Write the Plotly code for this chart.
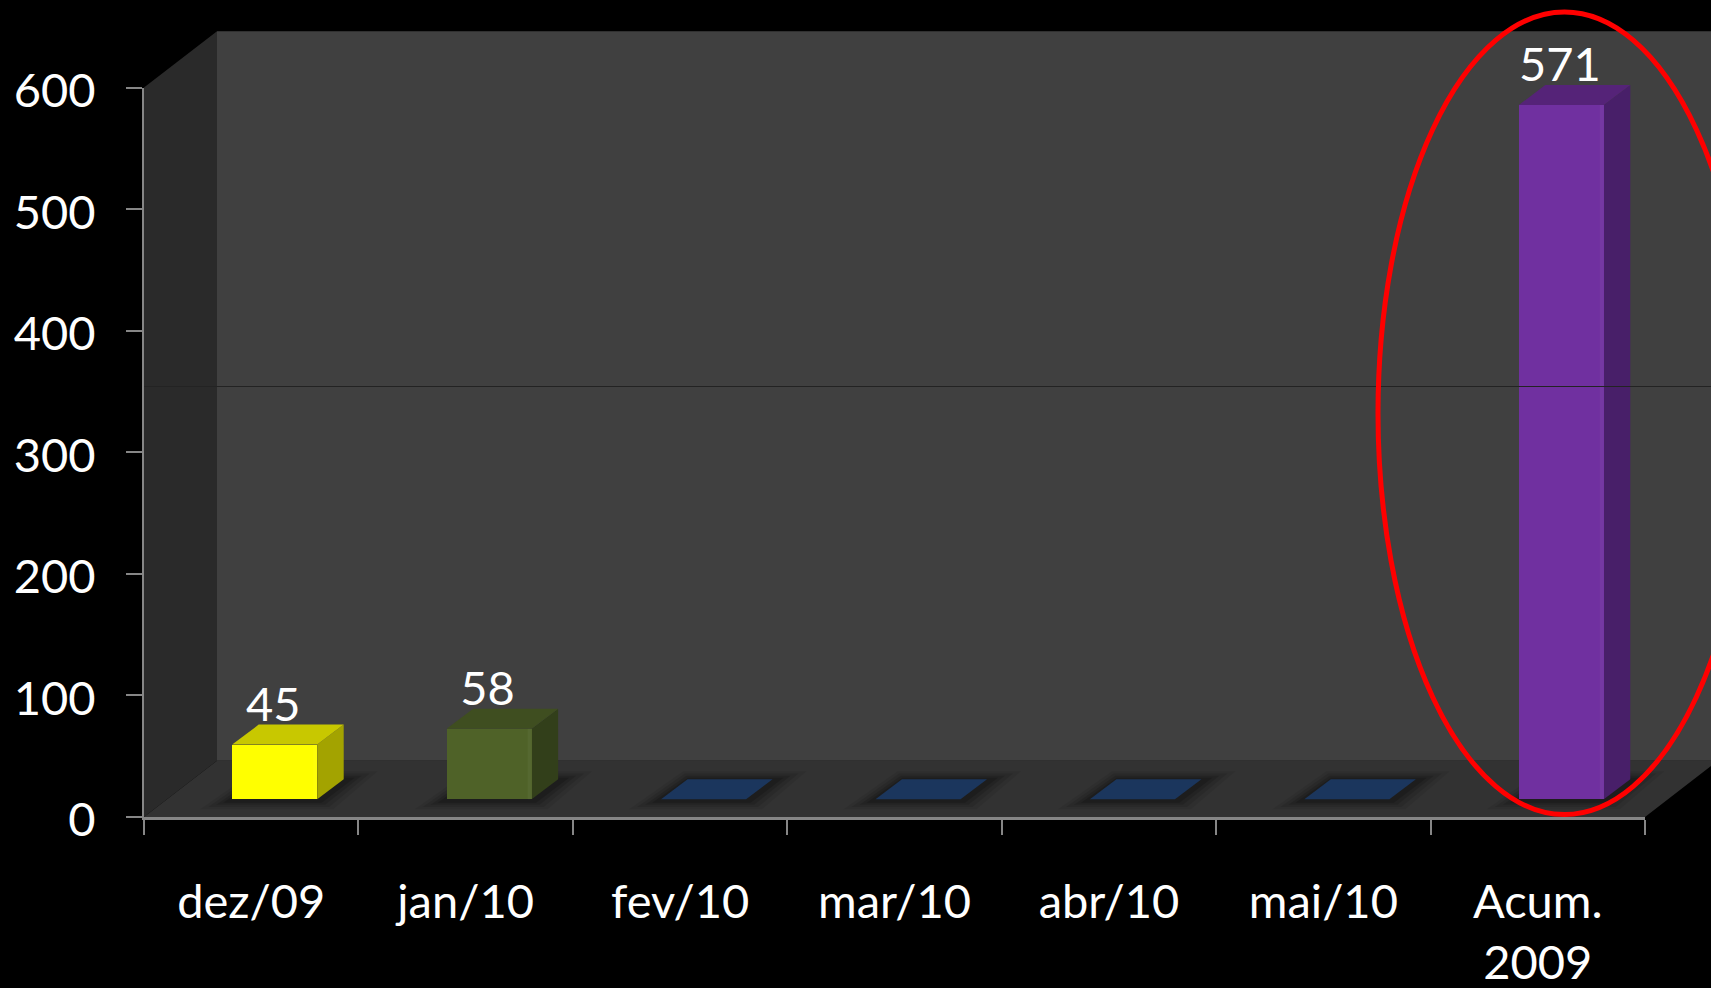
import plotly.graph_objects as go

# ---- data ----
categories = ["dez/09", "jan/10", "fev/10", "mar/10", "abr/10", "mai/10", "Acum.<br>2009"]
values = [45, 58, 0, 0, 0, 0, 571]
data_labels = ["45", "58", "", "", "", "", "571"]
y_ticks = [0, 100, 200, 300, 400, 500, 600]

front_colors = ["#FFFF00", "#4F6228", "#1B365D", "#1B365D", "#1B365D", "#1B365D", "#7030A0"]
top_colors = ["#C8C800", "#3F4E20", "#1B365D", "#1B365D", "#1B365D", "#1B365D", "#552378"]
side_colors = ["#A3A300", "#323F1A", "#1B365D", "#1B365D", "#1B365D", "#1B365D", "#481F69"]

WALL = "#404040"
SIDE_WALL = "#2A2A2A"
FLOOR = "#323232"
AXIS = "#868686"
FONT = "Lato, 'Open Sans', sans-serif"
FS = 47

# ---- page geometry ----
W, H = 1711, 988
X0_PX, X7_PX = 144.0, 1645.0
Y0_PX, Y600_PX = 817.0, 87.5
XU = (X7_PX - X0_PX) / 7          # px per category
YU = (Y0_PX - Y600_PX) / 600      # px per value unit

def ux(px):
    return px / XU
def uy(px):
    return px / YU

x_range = [ux(-X0_PX), ux(W - X0_PX)]
y_range = [uy(-(H - Y0_PX)), uy(Y0_PX)]

wall_dx, wall_dy = ux(73), uy(56.3)
bar_shift, bar_lift = ux(23.5), uy(17.7)
bar_w = ux(85)
depth_dx, depth_dy = ux(26.5), uy(20)
top_val = 600

fig = go.Figure()

def poly(xs, ys, color, opacity=1.0, axis=("x", "y")):
    fig.add_trace(go.Scatter(
        x=list(xs) + [xs[0]], y=list(ys) + [ys[0]], mode="lines", fill="toself",
        fillcolor=color, line=dict(width=0), opacity=opacity, hoverinfo="skip",
        showlegend=False, xaxis=axis[0], yaxis=axis[1]))

far = x_range[1] + 1
# back wall
poly([wall_dx, far, far, wall_dx],
     [wall_dy, wall_dy, top_val + wall_dy, top_val + wall_dy], WALL)
# side wall
poly([0, wall_dx, wall_dx, 0],
     [0, wall_dy, top_val + wall_dy, top_val], SIDE_WALL)
# floor
poly([0, 7, 7 + wall_dx, wall_dx], [0, 0, wall_dy, wall_dy], FLOOR)

n = len(categories)
centers = [i + 0.5 + bar_shift for i in range(n)]

# soft shadows on the floor
for g, op in [(32, 0.07), (24, 0.10), (16, 0.13), (9, 0.16)]:
    for c in centers:
        l, r = c - bar_w / 2, c + bar_w / 2
        gx, gy = ux(g), uy(g * 0.28)
        sdx = ux(2)
        base = bar_lift - uy(1)
        poly([l - gx, r + gx * 0.5, r + depth_dx + sdx + gx, l + depth_dx + sdx - gx * 0.2],
             [base - gy, base - gy, base + depth_dy + gy, base + depth_dy + gy],
             "#000000", op)

# side and top faces of each box
for i, (c, v) in enumerate(zip(centers, values)):
    l, r = c - bar_w / 2, c + bar_w / 2
    b, t = bar_lift, bar_lift + v
    if v > 0:
        poly([r, r + depth_dx, r + depth_dx, r],
             [b, b + depth_dy, t + depth_dy, t], side_colors[i])
    poly([l, r, r + depth_dx, l + depth_dx],
         [t, t, t + depth_dy, t + depth_dy], top_colors[i])

# front faces: bars (overlay subplot so they sit above the walls)
fig.add_trace(go.Bar(
    x=centers, y=values, base=[bar_lift] * n, width=bar_w,
    marker=dict(color=front_colors, line=dict(width=0)),
    hoverinfo="skip", showlegend=False, xaxis="x2", yaxis="y2"))

# faint bevel highlight along the right edge of the front faces
for c, v in zip(centers, values):
    if v > 0:
        r = c + bar_w / 2
        t = bar_lift + v
        poly([r - ux(4), r, r, r - ux(4)], [bar_lift, bar_lift, t, t],
             "#FFFFFF", 0.035, axis=("x2", "y2"))

# data labels
lab_x = [c - ux(1.5) for c, l in zip(centers, data_labels) if l]
lab_y = [bar_lift + v + depth_dy - uy(8) for v, l in zip(values, data_labels) if l]
fig.add_trace(go.Scatter(
    x=lab_x, y=lab_y, text=[l for l in data_labels if l], mode="text",
    textposition="top center", textfont=dict(family=FONT, size=FS, color="white"),
    hoverinfo="skip", showlegend=False, xaxis="x2", yaxis="y2", cliponaxis=False))

# axes carrier
fig.add_trace(go.Scatter(
    x=categories, y=values, mode="markers", marker=dict(opacity=0),
    hoverinfo="skip", showlegend=False, xaxis="x3", yaxis="y3"))

hidden = dict(visible=False, showgrid=False, zeroline=False, automargin=False)
fig.update_layout(
    width=W, height=H, margin=dict(l=0, r=0, t=0, b=0, autoexpand=False),
    paper_bgcolor="black", plot_bgcolor="rgba(0,0,0,0)",
    showlegend=False, bargap=0,
    font=dict(family=FONT, size=FS, color="white"),
    xaxis=dict(range=x_range, domain=[0, 1], **hidden),
    yaxis=dict(range=y_range, domain=[0, 1], **hidden),
    xaxis2=dict(range=x_range, domain=[0, 1], overlaying="x", anchor="y2", **hidden),
    yaxis2=dict(range=y_range, domain=[0, 1], overlaying="y", anchor="x2", **hidden),
    xaxis3=dict(
        type="category", categoryorder="array", categoryarray=categories,
        range=[-0.5, n - 0.5], tickson="boundaries", automargin=False,
        domain=[X0_PX / W, X7_PX / W], anchor="y3",
        showgrid=False, zeroline=False, showline=True, linecolor=AXIS, linewidth=2.5,
        ticks="outside", ticklen=15, tickwidth=2, tickcolor=AXIS,
        ticklabelstandoff=42, tickangle=0,
        tickfont=dict(family=FONT, size=FS, color="white")),
    yaxis3=dict(
        range=[0, 600], tickvals=y_ticks, automargin=False,
        domain=[1 - Y0_PX / H, 1 - Y600_PX / H], anchor="x3",
        showgrid=False, zeroline=False, showline=True, linecolor=AXIS, linewidth=2,
        ticks="outside", ticklen=16, tickwidth=2, tickcolor=AXIS,
        ticklabelstandoff=21, ticklabelshift=3,
        tickfont=dict(family=FONT, size=FS, color="white")),
    shapes=[
        # thin dark rule across the plot
        dict(type="line", xref="paper", yref="paper",
             x0=X0_PX / W, x1=1, y0=1 - 386.5 / H, y1=1 - 386.5 / H,
             line=dict(color="#232323", width=1), layer="above"),
        # red highlight ellipse
        dict(type="circle", xref="paper", yref="paper",
             x0=1378 / W, x1=1751 / W, y0=1 - 814.5 / H, y1=1 - 12 / H,
             line=dict(color="#FF0000", width=5), fillcolor="rgba(0,0,0,0)", layer="above"),
    ],
)

fig.write_html("out.html", post_script="document.body.style.margin='0';",
               config=dict(displayModeBar=False))
